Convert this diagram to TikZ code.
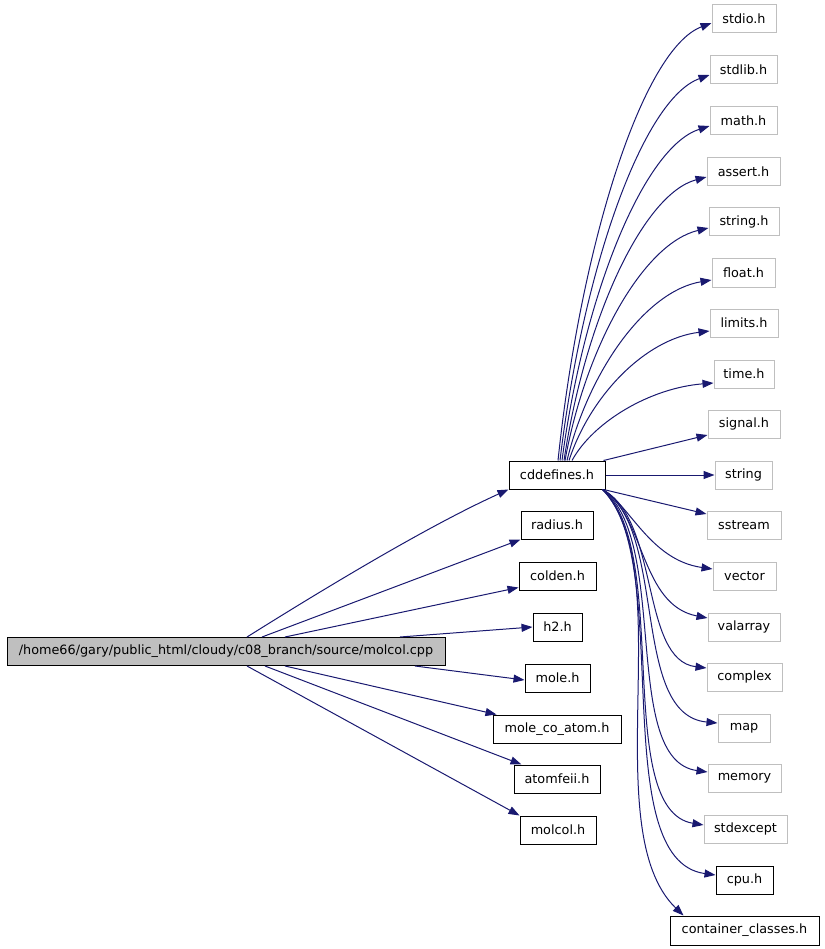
\documentclass[tikz,border=0pt]{standalone}
\usepackage{fontspec}
\setmainfont{DejaVu Sans}
\usetikzlibrary{arrows.meta}
\definecolor{edgec}{HTML}{191970}
\definecolor{graybd}{HTML}{BFBFBF}
\begin{document}
\begin{tikzpicture}[x=1pt,y=-1pt, font=\fontsize{12.8}{15}\selectfont,
 box/.style={draw=black, line width=1pt, minimum height=28pt, inner sep=0pt},
 gbox/.style={draw=graybd, line width=1pt, minimum height=28pt, inner sep=0pt},
 edge/.style={draw=edgec, line width=1pt, -{Triangle[length=11pt,width=8pt]}}]
\useasboundingbox (0,0) rectangle (824,949);
% left part
\node[box, fill=graybd, minimum width=438pt] (main) at (226,651.5) {/home66/gary/public\_html/cloudy/c08\_branch/source/molcol.cpp};
\node[box, minimum width=96pt] (cdd) at (557,475) {cddefines.h};
\node[box, minimum width=72pt] (radius) at (557,525) {radius.h};
\node[box, minimum width=77pt] (colden) at (557.5,576) {colden.h};
\node[box, minimum width=49pt] (h2) at (557.5,627) {h2.h};
\node[box, minimum width=65pt] (mole) at (557.5,678) {mole.h};
\node[box, minimum width=128pt] (mca) at (557,729) {mole\_co\_atom.h};
\node[box, minimum width=86pt] (atomfeii) at (557,779) {atomfeii.h};
\node[box, minimum width=76pt] (molcol) at (558,830) {molcol.h};
% right column
\node[gbox, minimum width=64pt] (stdio) at (744,19) {stdio.h};
\node[gbox, minimum width=67pt] (stdlib) at (743.5,70) {stdlib.h};
\node[gbox, minimum width=67pt] (math) at (743.5,121) {math.h};
\node[gbox, minimum width=73pt] (assert) at (743.5,172) {assert.h};
\node[gbox, minimum width=70pt] (stringh) at (744,222) {string.h};
\node[gbox, minimum width=63pt] (float) at (743.5,273) {float.h};
\node[gbox, minimum width=68pt] (limits) at (744,323) {limits.h};
\node[gbox, minimum width=60pt] (time) at (744,374) {time.h};
\node[gbox, minimum width=72pt] (signal) at (744,424) {signal.h};
\node[gbox, minimum width=57pt] (string) at (743.5,475) {string};
\node[gbox, minimum width=74pt] (sstream) at (744,525) {sstream};
\node[gbox, minimum width=63pt] (vector) at (744.5,576) {vector};
\node[gbox, minimum width=72pt] (valarray) at (744,627) {valarray};
\node[gbox, minimum width=75pt] (complex) at (744.5,677) {complex};
\node[gbox, minimum width=52pt] (map) at (744,728) {map};
\node[gbox, minimum width=73pt] (memory) at (744.5,778) {memory};
\node[gbox, minimum width=83pt] (stdexcept) at (745.5,829) {stdexcept};
\node[box, minimum width=57pt] (cpu) at (744.5,880) {cpu.h};
\node[box, minimum width=149pt, minimum height=29pt] (container) at (744.5,930.5) {container\_classes.h};
% edges from main
\draw[edge] ([xshift=21]main.north) .. controls (330,585) and (430,525) .. (cdd.south west);
\draw[edge] ([xshift=36]main.north) -- (radius.south west);
\draw[edge] ([xshift=59]main.north) -- ([yshift=3]colden.south west);
\draw[edge] ([xshift=174]main.north) -- (h2.west);
\draw[edge] ([xshift=189]main.south) -- ([yshift=-2]mole.west);
\draw[edge] ([xshift=59]main.south) -- ([xshift=4]mca.north west);
\draw[edge] ([xshift=39]main.south) -- ([xshift=8]atomfeii.north west);
\draw[edge] ([xshift=21]main.south) -- (molcol.north west);
% edges from cddefines, upper fan
\draw[edge] ([xshift=1]cdd.north) .. controls (581,242) and (643,49) .. ([yshift=-4]stdio.west);
\draw[edge] ([xshift=3]cdd.north) .. controls (583,268) and (643,99) .. ([yshift=-5]stdlib.west);
\draw[edge] ([xshift=5]cdd.north) .. controls (584,294) and (644,147) .. ([yshift=-5]math.west);
\draw[edge] ([xshift=7]cdd.north) .. controls (585,319) and (643,194) .. ([yshift=-5]assert.west);
\draw[edge] ([xshift=8]cdd.north) .. controls (586,345) and (644,243) .. ([yshift=-6]stringh.west);
\draw[edge] ([xshift=10]cdd.north) .. controls (589,370) and (646,291) .. ([yshift=-7]float.west);
\draw[edge] ([xshift=12]cdd.north) .. controls (590,396) and (645,339) .. ([yshift=-8]limits.west);
\draw[edge] ([xshift=15]cdd.north) .. controls (593,422) and (650,388) .. ([yshift=-9]time.west);
\draw[edge] ([xshift=-2]cdd.north east) -- ([yshift=-11]signal.west);
\draw[edge] (cdd.east) -- (string.west);
\draw[edge] ([xshift=-2]cdd.south east) -- ([yshift=11]sstream.west);
% lower fan
\draw[edge] ([xshift=-3]cdd.south east) .. controls (630,505) and (650,560) .. ([yshift=7]vector.west);
\draw[edge] ([xshift=-3]cdd.south east) .. controls (645,515) and (640,605) .. ([yshift=9]valarray.west);
\draw[edge] ([xshift=-3]cdd.south east) .. controls (660,520) and (640,660) .. ([yshift=9]complex.west);
\draw[edge] ([xshift=-3]cdd.south east) .. controls (668,530) and (630,715) .. ([yshift=5]map.west);
\draw[edge] ([xshift=-3]cdd.south east) .. controls (670,540) and (620,760) .. ([yshift=6]memory.west);
\draw[edge] ([xshift=-3]cdd.south east) .. controls (672,550) and (612,810) .. ([yshift=4]stdexcept.west);
\draw[edge] ([xshift=-3]cdd.south east) .. controls (675,560) and (605,860) .. ([yshift=5]cpu.west);
\draw[edge] ([xshift=-3]cdd.south east) .. controls (680,570) and (595,830) .. ([xshift=14]container.north west);
\end{tikzpicture}
\end{document}
